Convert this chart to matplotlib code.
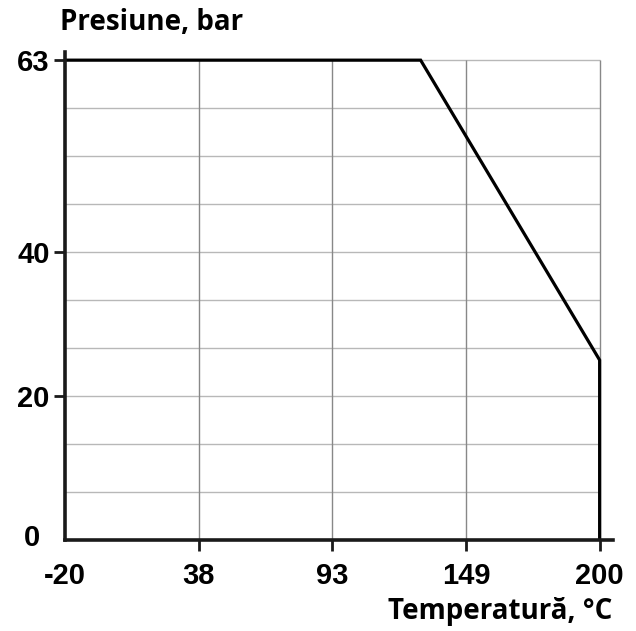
import numpy as np
import matplotlib
matplotlib.use("Agg")
import matplotlib.pyplot as plt
from matplotlib.scale import FuncScale
from matplotlib.transforms import ScaledTranslation

# tick labels on each axis (evenly spaced on the original chart)
temp_ticks = [-20, 38, 93, 149, 200]
pres_ticks = [0, 20, 40, 63]

# pressure / temperature rating curve
temp = [-20, 130, 200, 200]
pres = [63, 63, 25, 0]


def piecewise(src, dst):
    """Piecewise linear map src -> dst with linear extrapolation at both ends."""
    src = np.asarray(src, float)
    dst = np.asarray(dst, float)
    s0 = (dst[1] - dst[0]) / (src[1] - src[0])
    s1 = (dst[-1] - dst[-2]) / (src[-1] - src[-2])

    def f(v):
        v = np.asarray(v, float)
        out = np.interp(v, src, dst)
        out = np.where(v < src[0], dst[0] + (v - src[0]) * s0, out)
        out = np.where(v > src[-1], dst[-1] + (v - src[-1]) * s1, out)
        return out
    return f


x_pos = [0, 1, 2, 3, 4]
y_pos = [0, 3, 6, 10]
x_fwd, x_inv = piecewise(temp_ticks, x_pos), piecewise(x_pos, temp_ticks)
y_fwd, y_inv = piecewise(pres_ticks, y_pos), piecewise(y_pos, pres_ticks)

fig = plt.figure(figsize=(6.36, 6.31), dpi=100)
ax = fig.add_axes([65 / 636, 1 - 540 / 631, (613 - 65) / 636, (540 - 52) / 631])
ax.set_xscale(FuncScale(ax.xaxis, (x_fwd, x_inv)))
ax.set_yscale(FuncScale(ax.yaxis, (y_fwd, y_inv)))
ax.set_xlim(float(x_inv(0)), float(x_inv(4.1)))
ax.set_ylim(float(y_inv(0)), float(y_inv(10.17)))

# grid, limited to the data box
grid_y = y_inv(np.arange(1, 11))
ax.hlines(grid_y, temp_ticks[0], temp_ticks[-1], color="#b8b8b8", lw=1.0, zorder=1)
ax.vlines(temp_ticks[1:], pres_ticks[0], pres_ticks[-1], color="#888888", lw=1.0, zorder=1)

ax.plot(temp, pres, color="black", lw=2.3, solid_joinstyle="miter", zorder=3)

for side in ["top", "right"]:
    ax.spines[side].set_visible(False)
for side in ["left", "bottom"]:
    ax.spines[side].set_linewidth(2.6)
    ax.spines[side].set_color("#1a1a1a")
    ax.spines[side].set_zorder(4)

ax.set_xticks(temp_ticks)
ax.set_xticklabels([str(t) for t in temp_ticks])
ax.set_yticks(pres_ticks)
ax.set_yticklabels([str(p) for p in pres_ticks])
ax.xaxis.set_minor_locator(matplotlib.ticker.NullLocator())
ax.yaxis.set_minor_locator(matplotlib.ticker.NullLocator())
ax.tick_params(axis="x", length=8, width=2, pad=8, color="#1a1a1a")
ax.tick_params(axis="y", length=8, width=2, pad=3, color="#1a1a1a")
for lab in ax.get_xticklabels() + ax.get_yticklabels():
    lab.set_fontfamily("Liberation Sans")
    lab.set_fontweight("bold")
    lab.set_fontsize(21)
ax.xaxis.get_major_ticks()[0].tick1line.set_visible(False)
ax.yaxis.get_major_ticks()[0].tick1line.set_visible(False)

# the "0" label sits a little further left and higher than the others
zero = ax.get_yticklabels()[0]
zero.set_transform(zero.get_transform() + ScaledTranslation(-10 / 100, 5 / 100, fig.dpi_scale_trans))

fig.text(60 / 636, 1 - 22 / 631, "Presiune, bar", family="Open Sans", weight="bold",
         fontsize=20, va="center", ha="left")
fig.text(612 / 636, 1 - 612 / 631, "Temperatură, °C", family="Open Sans", weight="bold",
         fontsize=20, va="center", ha="right")

fig.savefig("out.png", dpi=100)
